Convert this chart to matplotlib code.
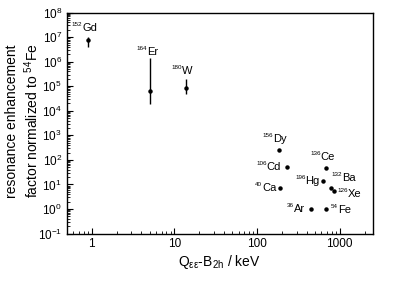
import matplotlib
matplotlib.use('Agg')
import matplotlib.pyplot as plt
import numpy as np
from matplotlib.ticker import LogLocator, FixedLocator, NullFormatter

plt.rcParams['font.family'] = ['Liberation Sans', 'DejaVu Sans']
plt.rcParams['mathtext.fontset'] = 'custom'
plt.rcParams['mathtext.rm'] = 'Liberation Sans'
plt.rcParams['mathtext.it'] = 'Liberation Sans'
plt.rcParams['mathtext.default'] = 'regular'

# nuclides
mass_numbers = ['152', '164', '180', '156', '106', '136', '196',
                '132', '126', '40', '36', '54']
symbols = ['Gd', 'Er', 'W', 'Dy', 'Cd', 'Ce', 'Hg', 'Ba', 'Xe', 'Ca', 'Ar', 'Fe']
q_minus_b = [0.91, 5.07, 13.8, 186, 228, 676, 620, 790, 850, 189, 443, 676]
enhancement = [7.7e6, 6.6e4, 8.2e4, 265, 49, 45, 13.5, 7.2, 5.4, 7.2, 1.04, 1.0]
# error bar ends, only the first three points have them
err_min = [4.0e6, 1.86e4, 4.7e4]
err_max = [9.8e6, 1.38e6, 2.04e5]

# position of the element symbol start relative to the point (pixels)
offsets = [(-6, 12), (-3, 39), (-4, 17), (-6, 11), (-20, 0), (-5, 11),
           (-17, 0), (11, 10), (14, -3), (-18, 0), (-17, 0), (12, -1)]

fig = plt.figure(figsize=(4.15, 2.81), dpi=100)
ax = fig.add_axes([0.161, 0.169, 0.737, 0.786])

yerr = [np.array(enhancement[:3]) - np.array(err_min),
        np.array(err_max) - np.array(enhancement[:3])]
ax.errorbar(q_minus_b[:3], enhancement[:3], yerr=yerr,
            fmt='o', color='black', ms=2.2, elinewidth=1.0, capsize=0)
ax.plot(q_minus_b[3:], enhancement[3:], 'o', color='black', ms=2.2)

for m, sym, x, y, off in zip(mass_numbers, symbols, q_minus_b, enhancement, offsets):
    ax.annotate(sym, xy=(x, y), xytext=off, textcoords='offset pixels',
                ha='left', va='center', fontsize=8)
    ax.annotate(m, xy=(x, y), xytext=(off[0], off[1] + 1), textcoords='offset pixels',
                ha='right', va='bottom', fontsize=4.5)

ax.set_xscale('log')
ax.set_yscale('log')
ax.set_xlim(0.5, 2500)
ax.set_ylim(1e-1, 1e8)

ax.xaxis.set_major_locator(FixedLocator([1, 10, 100, 1000]))
ax.set_xticklabels(['1', '10', '100', '1000'])
ax.xaxis.set_minor_locator(LogLocator(base=10, subs=np.arange(2, 10)))
ax.xaxis.set_minor_formatter(NullFormatter())
ax.yaxis.set_major_locator(LogLocator(base=10, numticks=20))
ax.yaxis.set_minor_locator(LogLocator(base=10, subs=np.arange(2, 10), numticks=20))
ax.yaxis.set_minor_formatter(NullFormatter())

ax.tick_params(which='both', direction='in', labelsize=8.5, top=False, right=False)
ax.tick_params(which='major', length=4, width=0.8)
ax.tick_params(which='minor', length=2, width=0.6)
for s in ax.spines.values():
    s.set_linewidth(1.0)

ax.set_xlabel(r'Q$_{\epsilon\epsilon}$-B$_{2h}$ / keV', fontsize=10, labelpad=2)
ax.set_ylabel('resonance enhancement\n' + r'factor normalized to $^{54}$Fe', fontsize=10)
ax.yaxis.set_label_coords(-0.085, 0.51)

fig.savefig('out.png', dpi=100)
